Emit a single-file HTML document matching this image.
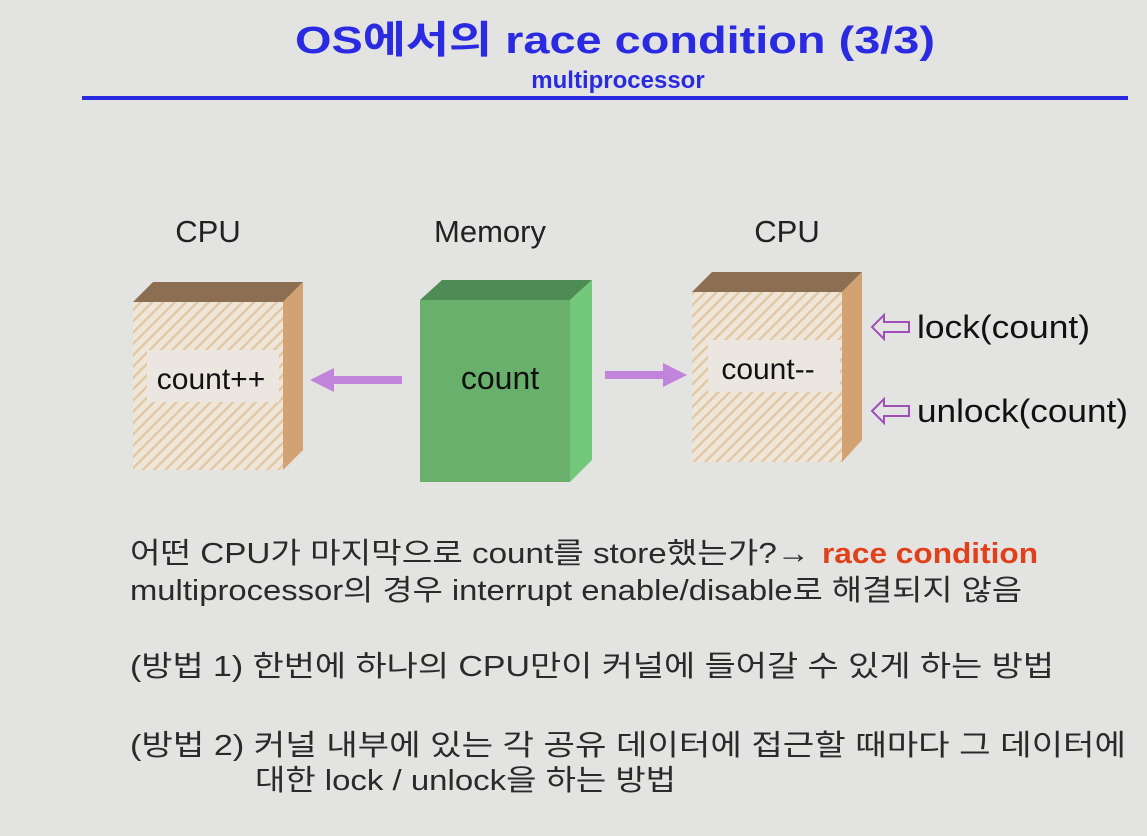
<!DOCTYPE html>
<html><head><meta charset="utf-8"><style>
html,body{margin:0;padding:0;background:#e3e3e2;}
svg{display:block}
</style></head><body>
<svg width="1147" height="836" viewBox="0 0 1147 836" xmlns="http://www.w3.org/2000/svg">
<defs>
<pattern id="h" width="8" height="8" patternUnits="userSpaceOnUse" patternTransform="rotate(45)">
<rect width="8" height="8" fill="#efe6da"/>
<rect width="2.5" height="8" fill="#e2c9a6"/>
</pattern>
</defs>
<rect width="1147" height="836" fill="#e3e3e2"/>
<g font-family="Liberation Sans, Noto Sans CJK KR, sans-serif">
<text x="615" y="53" text-anchor="middle" font-size="38" font-weight="bold" fill="#2a2ae0" textLength="640" lengthAdjust="spacingAndGlyphs">OS에서의  race condition (3/3)</text>
<text x="618" y="88" text-anchor="middle" font-size="24" font-weight="bold" fill="#2a2ae0">multiprocessor</text>
<rect x="82" y="96" width="1046" height="4" fill="#2a2ae0"/>

<text x="208" y="242" text-anchor="middle" font-size="31" fill="#222">CPU</text>
<text x="490" y="242" text-anchor="middle" font-size="31" fill="#222">Memory</text>
<text x="787" y="242" text-anchor="middle" font-size="31" fill="#222">CPU</text>

<polygon points="133,302 283,302 303,282 153,282" fill="#8c6e53"/>
<polygon points="283,302 303,282 303,450 283,470" fill="#d3a272"/>
<rect x="133" y="302" width="150" height="168" fill="url(#h)"/>
<rect x="147" y="350" width="132" height="52" fill="#ebe6df"/>
<text x="211" y="389" text-anchor="middle" font-size="30" fill="#111">count++</text>

<polygon points="420,300 570,300 592,280 442,280" fill="#4e8c55"/>
<polygon points="570,300 592,280 592,460 570,482" fill="#74c87b"/>
<rect x="420" y="300" width="150" height="182" fill="#68b06c"/>
<text x="500" y="389" text-anchor="middle" font-size="32" fill="#111">count</text>

<rect x="330" y="376" width="72" height="8" fill="#c084dc"/>
<polygon points="310,380 334,368 334,392" fill="#c084dc"/>
<rect x="605" y="371" width="60" height="8" fill="#c084dc"/>
<polygon points="687,375 663,363 663,387" fill="#c084dc"/>

<polygon points="692,292 842,292 862,272 712,272" fill="#8c6e53"/>
<polygon points="842,292 862,272 862,440 842,462" fill="#d3a272"/>
<rect x="692" y="292" width="150" height="170" fill="url(#h)"/>
<rect x="708" y="340" width="132" height="52" fill="#ebe6df"/>
<text x="768" y="379" text-anchor="middle" font-size="30" fill="#111">count--</text>

<polygon points="872,327 884,315 884,322 909,322 909,332 884,332 884,339" fill="none" stroke="#a04fb8" stroke-width="2"/>
<polygon points="872,411 884,399 884,406 909,406 909,416 884,416 884,423" fill="none" stroke="#a04fb8" stroke-width="2"/>
<text x="917" y="338" font-size="32" fill="#111" textLength="173" lengthAdjust="spacingAndGlyphs">lock(count)</text>
<text x="917" y="422" font-size="32" fill="#111" textLength="211" lengthAdjust="spacingAndGlyphs">unlock(count)</text>

<g font-size="29" fill="#2a2a2a">
<text x="130" y="563" textLength="680" lengthAdjust="spacingAndGlyphs">어떤 CPU가 마지막으로 count를 store했는가?→</text>
<text x="822" y="563" font-weight="bold" fill="#e0401a" textLength="216" lengthAdjust="spacingAndGlyphs">race condition</text>
<text x="130" y="600" textLength="892" lengthAdjust="spacingAndGlyphs">multiprocessor의 경우 interrupt enable/disable로 해결되지 않음</text>
<text x="130" y="676" textLength="924" lengthAdjust="spacingAndGlyphs">(방법 1) 한번에 하나의 CPU만이 커널에 들어갈 수 있게 하는 방법</text>
<text x="130" y="755" textLength="996" lengthAdjust="spacingAndGlyphs">(방법 2) 커널 내부에 있는 각 공유 데이터에 접근할 때마다 그 데이터에</text>
<text x="255" y="790" textLength="421" lengthAdjust="spacingAndGlyphs">대한 lock / unlock을 하는 방법</text>
</g>
</g>
</svg>
</body></html>
